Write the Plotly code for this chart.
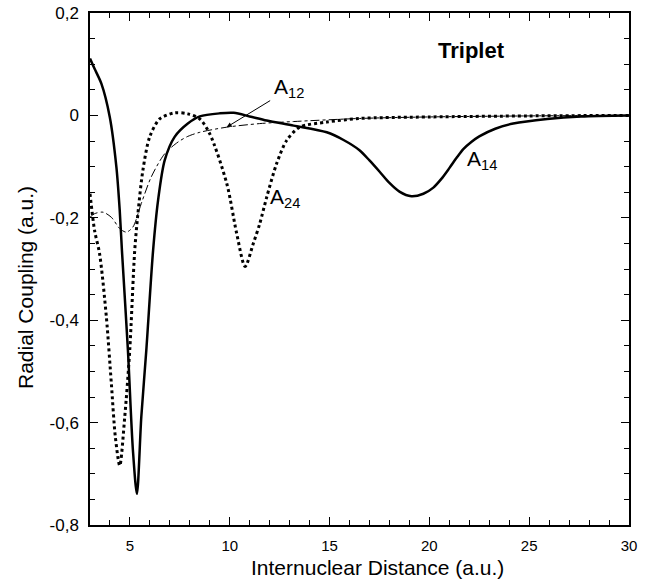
import plotly.graph_objects as go

# A14 (solid)
a14_x = [3.0, 3.23, 3.57, 3.99, 4.32, 4.49, 4.6, 4.9, 5.15, 5.35, 5.57, 5.82, 6.16, 6.41, 6.74, 7.24, 7.9,
         8.5, 9.5, 10.2, 11.0, 11.85, 13.2, 14.86, 15.7, 16.5, 17.0, 17.53, 18.0, 18.5, 19.1, 19.7, 20.2,
         20.6, 21.0, 21.4, 21.7, 22.1, 22.5, 23.3, 24.2, 25.9, 27.6, 30.0]
a14_y = [0.111, 0.091, 0.062, -0.003, -0.10, -0.186, -0.264, -0.459, -0.654, -0.739, -0.589, -0.459, -0.264,
         -0.166, -0.088, -0.042, -0.016, -0.002, 0.004, 0.005, -0.002, -0.010, -0.020, -0.033, -0.048,
         -0.068, -0.088, -0.111, -0.132, -0.149, -0.158, -0.153, -0.141, -0.124, -0.103, -0.081, -0.066,
         -0.052, -0.041, -0.026, -0.016, -0.007, -0.002, 0.0]

# A24 (dotted)
a24_x = [3.0, 3.23, 3.48, 3.82, 4.07, 4.27, 4.49, 4.74, 4.99, 5.24, 5.4, 5.65, 5.99, 6.49, 7.24, 7.9, 8.5,
         9.0, 9.85, 10.35, 10.77, 11.18, 11.5, 11.85, 12.35, 12.85, 13.5, 14.86, 16.5, 20.0, 25.0, 30.0]
a24_y = [-0.153, -0.225, -0.27, -0.394, -0.524, -0.628, -0.684, -0.589, -0.459, -0.264, -0.192, -0.107,
         -0.042, -0.007, 0.005, 0.003, -0.007, -0.036, -0.133, -0.231, -0.295, -0.25, -0.212, -0.16,
         -0.094, -0.049, -0.023, -0.013, -0.006, -0.003, -0.001, 0.0]

# A12 (thin dash-dot)
a12_x = [3.0, 3.23, 3.65, 4.07, 4.49, 4.82, 5.15, 5.57, 6.07, 6.74, 7.41, 7.9, 8.5, 9.85, 11.5, 13.2,
         16.5, 20.0, 25.0, 30.0]
a12_y = [-0.199, -0.192, -0.189, -0.199, -0.221, -0.228, -0.218, -0.172, -0.12, -0.075, -0.052, -0.041,
         -0.033, -0.023, -0.016, -0.012, -0.006, -0.003, -0.001, 0.0]

x_tickvals = [5, 10, 15, 20, 25, 30]
y_tickvals = [0.2, 0.0, -0.2, -0.4, -0.6, -0.8]
y_ticktext = ["0,2", "0", "-0,2", "-0,4", "-0,6", "-0,8"]

FONT = "Liberation Sans, Arial, Helvetica, sans-serif"

fig = go.Figure()
fig.add_trace(go.Scatter(x=a12_x, y=a12_y, mode="lines", name="A12",
                         line=dict(color="black", width=1, dash="dashdot", shape="spline", smoothing=0.8)))
fig.add_trace(go.Scatter(x=a24_x, y=a24_y, mode="lines", name="A24",
                         line=dict(color="black", width=3, dash="dot", shape="spline", smoothing=0.8)))
fig.add_trace(go.Scatter(x=a14_x, y=a14_y, mode="lines", name="A14",
                         line=dict(color="black", width=2.5, shape="spline", smoothing=0.8)))

axis_common = dict(showline=True, linecolor="black", linewidth=1.5, mirror="ticks", ticks="inside",
                   ticklen=8, tickwidth=1.2, tickcolor="black", showgrid=False, zeroline=False)

fig.update_xaxes(range=[3, 30], tickvals=x_tickvals, ticklabelstandoff=6,
                 tickfont=dict(family=FONT, size=15, color="black"),
                 minor=dict(dtick=1, tick0=0, ticks="inside", ticklen=5, tickcolor="black", tickwidth=1),
                 **axis_common)
fig.update_yaxes(range=[-0.8, 0.2], tickvals=y_tickvals, ticktext=y_ticktext, ticklabelstandoff=6,
                 tickfont=dict(family=FONT, size=17, color="black"),
                 minor=dict(dtick=0.05, tick0=0, ticks="inside", ticklen=5, tickcolor="black", tickwidth=1),
                 **axis_common)

annos = [
    dict(x=22.09, y=0.127, text="<b>Triplet</b>", size=22, xanchor="center"),
    dict(x=12.12, y=0.054, text="A<sub>12</sub>", size=21, xanchor="left"),
    dict(x=11.92, y=-0.162, text="A<sub>24</sub>", size=21, xanchor="left"),
    dict(x=21.79, y=-0.088, text="A<sub>14</sub>", size=21, xanchor="left"),
]
for a in annos:
    fig.add_annotation(xref="x", yref="y", showarrow=False, yanchor="middle",
                       x=a["x"], y=a["y"], text=a["text"], xanchor=a["xanchor"],
                       font=dict(family=FONT, color="black", size=a["size"]))

# pointer from A12 label to its curve
fig.add_annotation(xref="x", yref="y", axref="x", ayref="y", x=9.85, y=-0.0229, ax=12.10, ay=0.0307,
                   text="", showarrow=True, arrowhead=2, arrowsize=1, arrowwidth=1, arrowcolor="black",
                   standoff=0, startstandoff=0)

# axis titles
fig.add_annotation(xref="paper", yref="paper", x=(377 - 90) / 539, y=-(567 - 525) / 512,
                   text="Internuclear Distance (a.u.)", showarrow=False, xanchor="center", yanchor="middle",
                   font=dict(family=FONT, size=21, color="black"))
fig.add_annotation(xref="paper", yref="paper", x=-(90 - 25) / 539, y=(525 - 288) / 512,
                   text="Radial Coupling (a.u.)", showarrow=False, textangle=-90,
                   xanchor="center", yanchor="middle",
                   font=dict(family=FONT, size=21, color="black"))

fig.update_layout(width=658, height=580, margin=dict(l=90, r=29, t=13, b=55, autoexpand=False),
                  paper_bgcolor="white", plot_bgcolor="white", showlegend=False,
                  font=dict(family=FONT, color="black"))

fig.write_html("out.html")
